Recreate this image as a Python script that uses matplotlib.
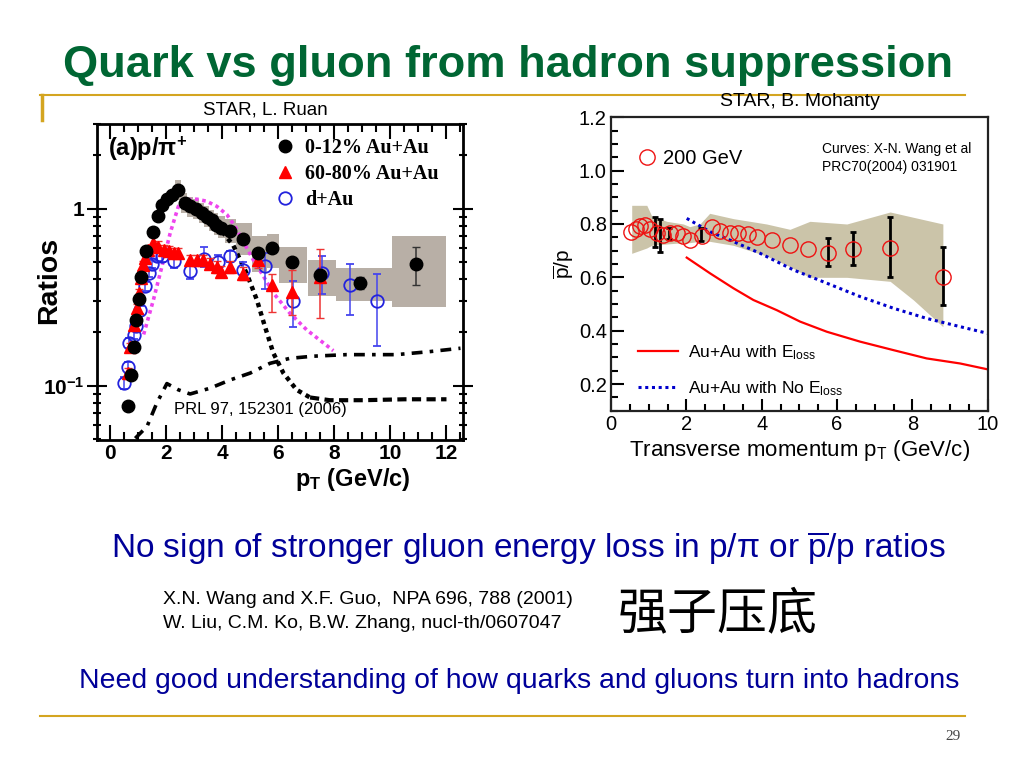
import matplotlib
matplotlib.use('Agg')
import matplotlib.pyplot as plt
from matplotlib.ticker import MultipleLocator, FixedLocator, NullFormatter
from matplotlib.lines import Line2D
from matplotlib.patches import Rectangle

plt.rcParams['font.family'] = ['Liberation Sans', 'DejaVu Sans']
plt.rcParams['mathtext.fontset'] = 'custom'
plt.rcParams['mathtext.rm'] = 'Liberation Sans'
plt.rcParams['mathtext.it'] = 'Liberation Sans:italic'
plt.rcParams['mathtext.bf'] = 'Liberation Sans:bold'

# ---- left panel: p/pi+ ratios ----
cen_x = [0.62, 0.75, 0.86, 0.93, 1.01, 1.10, 1.28, 1.52, 1.72, 1.84, 2.02, 2.20, 2.40,
         2.65, 2.85, 3.06, 3.27, 3.44, 3.62, 3.78, 3.94, 4.28, 4.75, 5.28, 5.78, 6.50,
         7.48, 8.90, 10.90]
cen_y = [0.077, 0.115, 0.165, 0.234, 0.31, 0.41, 0.58, 0.74, 0.91, 1.05, 1.13, 1.20, 1.28,
         1.08, 1.03, 0.99, 0.95, 0.90, 0.86, 0.81, 0.78, 0.745, 0.67, 0.565, 0.60, 0.50,
         0.42, 0.38, 0.49]
cen_bar_x = [8.90, 10.90]
cen_bar_y = [0.38, 0.49]
cen_bar_lo = [0.35, 0.37]
cen_bar_hi = [0.41, 0.61]
# systematic boxes for central data: x0, x1, low, high
box_x0 = [2.30, 2.52, 2.75, 2.95, 3.16, 3.36, 3.53, 3.70, 3.86, 4.10, 4.50, 5.06, 5.59, 6.02, 7.05, 8.05, 10.05]
box_x1 = [2.52, 2.75, 2.95, 3.16, 3.36, 3.53, 3.70, 3.86, 4.10, 4.50, 5.06, 5.59, 6.02, 7.02, 8.05, 10.05, 12.0]
box_lo = [1.12, 0.95, 0.90, 0.87, 0.83, 0.79, 0.75, 0.71, 0.68, 0.64, 0.55, 0.44, 0.46, 0.38, 0.32, 0.30, 0.28]
box_hi = [1.45, 1.22, 1.16, 1.13, 1.08, 1.03, 0.98, 0.94, 0.91, 0.87, 0.83, 0.70, 0.72, 0.61, 0.51, 0.46, 0.70]

per_x = [0.63, 0.71, 0.83, 0.95, 1.04, 1.10, 1.16, 1.25, 1.36, 1.54, 1.72, 1.90, 2.08, 2.26,
         2.43, 2.85, 3.09, 3.32, 3.56, 3.80, 3.94, 4.28, 4.75, 5.28, 5.78, 6.50, 7.48]
per_y = [0.118, 0.165, 0.221, 0.275, 0.334, 0.406, 0.483, 0.526, 0.586, 0.64, 0.61, 0.586,
         0.574, 0.56, 0.56, 0.515, 0.515, 0.515, 0.49, 0.47, 0.44, 0.47, 0.43, 0.515, 0.37,
         0.34, 0.41]
per_lo = [0.110, 0.155, 0.208, 0.260, 0.318, 0.388, 0.462, 0.500, 0.555, 0.600, 0.570, 0.550,
          0.540, 0.525, 0.525, 0.480, 0.480, 0.480, 0.455, 0.435, 0.410, 0.435, 0.395, 0.46, 0.26,
          0.25, 0.24]
per_hi = [0.126, 0.175, 0.234, 0.290, 0.350, 0.424, 0.504, 0.552, 0.617, 0.690, 0.660, 0.625,
          0.612, 0.598, 0.598, 0.550, 0.550, 0.550, 0.525, 0.505, 0.472, 0.505, 0.470, 0.56, 0.43,
          0.45, 0.59]

dau_x = [0.50, 0.62, 0.68, 0.86, 0.93, 1.07, 1.25, 1.37, 1.48, 1.66, 1.84, 2.28, 2.85, 3.33,
         3.84, 4.28, 4.75, 5.52, 6.53, 7.54, 8.55, 9.52]
dau_y = [0.104, 0.127, 0.174, 0.194, 0.218, 0.269, 0.364, 0.433, 0.486, 0.538, 0.542, 0.504,
         0.443, 0.522, 0.50, 0.538, 0.452, 0.477, 0.303, 0.433, 0.372, 0.30]
dau_lo = [0.096, 0.118, 0.163, 0.183, 0.206, 0.255, 0.345, 0.410, 0.460, 0.505, 0.500, 0.460,
          0.400, 0.470, 0.460, 0.500, 0.410, 0.350, 0.216, 0.330, 0.250, 0.167]
dau_hi = [0.112, 0.136, 0.185, 0.205, 0.230, 0.283, 0.383, 0.456, 0.512, 0.570, 0.580, 0.550,
          0.490, 0.610, 0.550, 0.580, 0.500, 0.560, 0.390, 0.540, 0.490, 0.430]

mag_x = [1.19, 1.54, 1.84, 2.14, 2.43, 2.73, 3.09, 3.44, 3.80, 4.16, 4.45, 4.75, 5.10, 5.46,
         5.82, 6.41, 7.01, 7.96]
mag_y = [0.195, 0.306, 0.47, 0.73, 1.03, 1.12, 1.13, 1.10, 1.03, 0.925, 0.795, 0.65, 0.515,
         0.417, 0.334, 0.257, 0.207, 0.158]

frag_x = [4.00, 4.39, 4.87, 5.23, 5.52, 5.82, 6.18, 6.65, 7.13, 7.84, 9.03, 10.5, 12.0]
frag_y = [0.74, 0.62, 0.43, 0.306, 0.216, 0.153, 0.118, 0.095, 0.086, 0.083, 0.083, 0.084, 0.084]

dd_x = [0.89, 1.31, 1.66, 2.02, 2.43, 2.85, 3.56, 4.28, 4.99, 5.70, 6.41, 7.24, 8.43, 10.21,
        11.4, 12.5]
dd_y = [0.0506, 0.059, 0.080, 0.103, 0.095, 0.090, 0.097, 0.108, 0.118, 0.134, 0.143, 0.147,
        0.150, 0.150, 0.156, 0.163]

# ---- right panel: pbar/p ----
pp_x = [0.52, 0.66, 0.77, 0.90, 1.04, 1.21, 1.39, 1.57, 1.74, 1.92, 2.10, 2.41, 2.67, 2.89,
        3.16, 3.38, 3.65, 3.87, 4.27, 4.75, 5.24, 5.75, 6.42, 7.41, 8.81]
pp_y = [0.769, 0.78, 0.792, 0.796, 0.78, 0.765, 0.759, 0.765, 0.765, 0.755, 0.74, 0.756, 0.79,
        0.775, 0.767, 0.765, 0.761, 0.752, 0.74, 0.721, 0.705, 0.692, 0.705, 0.709, 0.60]
pp_bar_x = [1.17, 1.30, 1.55, 2.39, 5.75, 6.42, 7.41, 8.81]
pp_bar_y = [0.771, 0.757, 0.765, 0.760, 0.692, 0.705, 0.709, 0.60]
pp_bar_lo = [0.715, 0.696, 0.745, 0.735, 0.642, 0.647, 0.600, 0.495]
pp_bar_hi = [0.827, 0.818, 0.785, 0.785, 0.749, 0.771, 0.825, 0.715]

band_x = [0.55, 0.95, 1.08, 1.48, 1.92, 2.09, 2.36, 2.62, 3.25, 4.13, 4.75, 5.28, 6.26, 7.41, 8.03, 8.81]
band_lo = [0.69, 0.71, 0.72, 0.725, 0.73, 0.73, 0.735, 0.735, 0.72, 0.68, 0.64, 0.60, 0.60, 0.585, 0.515, 0.415]
band_hi = [0.87, 0.87, 0.83, 0.81, 0.80, 0.79, 0.80, 0.84, 0.82, 0.80, 0.78, 0.81, 0.80, 0.845, 0.825, 0.80]

noloss_x = [2.01, 2.63, 3.25, 3.96, 4.84, 5.73, 6.61, 7.50, 8.38, 9.27, 10.0]
noloss_y = [0.821, 0.771, 0.734, 0.69, 0.628, 0.578, 0.528, 0.484, 0.446, 0.415, 0.39]
loss_x = [2.01, 2.63, 3.25, 3.78, 4.40, 5.02, 5.73, 6.61, 7.50, 8.38, 9.27, 10.0]
loss_y = [0.674, 0.615, 0.559, 0.515, 0.477, 0.434, 0.396, 0.359, 0.327, 0.296, 0.277, 0.255]

W, H = 1024, 768
fig = plt.figure(figsize=(10.24, 7.68), dpi=100)


def fx(px):
    return px / W


def fy(py):
    return 1 - py / H


def errs(y, lo, hi):
    return [[a - b for a, b in zip(y, lo)], [c - a for a, c in zip(y, hi)]]


# slide decorations
gold = '#d4a520'
fig.add_artist(Line2D([fx(40), fx(965)], [fy(95), fy(95)], color=gold, lw=1.5))
fig.add_artist(Line2D([fx(42), fx(42)], [fy(95), fy(120)], color=gold, lw=2.5))
fig.add_artist(Line2D([fx(40), fx(965)], [fy(716), fy(716)], color=gold, lw=1.5))

fig.text(fx(508), fy(65), 'Quark vs gluon from hadron suppression', color='#006633',
         fontsize=32.6, fontweight='bold', ha='center', va='center',
         family=['Liberation Sans Narrow', 'Liberation Sans'])
fig.text(fx(265), fy(110), 'STAR, L. Ruan', fontsize=13.5, ha='center', va='center')
fig.text(fx(800), fy(102), 'STAR, B. Mohanty', fontsize=14, ha='center', va='center')

# ---- left axes ----
ax1 = fig.add_axes([fx(97), fy(440), (463 - 97) / W, (440 - 124) / H])
ax1.set_yscale('log')
ax1.set_xlim(-0.475, 12.59)
ax1.set_ylim(0.0495, 3.0)

for x0, x1, lo, hi in zip(box_x0, box_x1, box_lo, box_hi):
    ax1.add_patch(Rectangle((x0, lo), x1 - x0, hi - lo, facecolor='#b8afa6',
                            edgecolor='none', zorder=1))

ax1.plot(mag_x, mag_y, color='#ee44ee', ls=(0, (1, 1)), lw=2.6, zorder=2)
ax1.plot([x for x in frag_x if x <= 7.2], [y for x, y in zip(frag_x, frag_y) if x <= 7.2],
         color='black', ls=(0, (1, 1)), lw=3.2, zorder=2)
ax1.plot([x for x in frag_x if x >= 7.1], [y for x, y in zip(frag_x, frag_y) if x >= 7.1],
         color='black', ls=(0, (2.2, 1.3)), lw=3.0, zorder=2)
ax1.plot(dd_x, dd_y, color='black', ls=(0, (3, 2, 1, 2)), lw=2.6, zorder=2)

ax1.errorbar(dau_x, dau_y, yerr=errs(dau_y, dau_lo, dau_hi),
             fmt='o', mfc='none', mec='#2222dd', ecolor='#4444ee', ms=9, mew=1.3,
             elinewidth=1.1, capsize=3, zorder=3)
ax1.errorbar(per_x, per_y, yerr=errs(per_y, per_lo, per_hi),
             fmt='^', color='#ff0000', ecolor='#ee3333', ms=9, elinewidth=1.1, capsize=3, zorder=4)
ax1.errorbar(cen_bar_x, cen_bar_y, yerr=errs(cen_bar_y, cen_bar_lo, cen_bar_hi),
             fmt='none', ecolor='#333333', elinewidth=1.1, capsize=3, zorder=4)
ax1.plot(cen_x, cen_y, 'o', color='black', ms=9, zorder=5)

ax1.xaxis.set_major_locator(MultipleLocator(2))
ax1.xaxis.set_minor_locator(MultipleLocator(0.5))
ax1.yaxis.set_major_locator(FixedLocator([0.1, 1]))
ax1.yaxis.set_minor_locator(FixedLocator([0.05, 0.06, 0.07, 0.08, 0.09, 0.2, 0.3, 0.4, 0.5,
                                          0.6, 0.7, 0.8, 0.9, 2, 3]))
ax1.yaxis.set_minor_formatter(NullFormatter())
ax1.set_yticklabels([r'$\mathbf{10^{-1}}$', '1'])
ax1.tick_params(which='both', direction='in', top=True, right=True, width=1.5)
ax1.tick_params(axis='y', which='both', direction='inout')
ax1.tick_params(which='major', length=11, labelsize=15, pad=3)
ax1.tick_params(which='minor', length=6)
ax1.tick_params(axis='y', which='major', length=14, pad=2)
for lab in ax1.get_xticklabels() + ax1.get_yticklabels():
    lab.set_fontweight('bold')
for s in ax1.spines.values():
    s.set_linewidth(2)

ax1.set_ylabel('Ratios', fontsize=20.5, fontweight='bold')
ax1.yaxis.set_label_coords(-0.096, 0.506)
ax1.set_xlabel(r'p$_{\mathbf{T}}$ (GeV/c)', fontsize=17, fontweight='bold')
ax1.xaxis.set_label_coords(0.70, -0.083)
ax1.text(0.03, 0.92, r'(a)p/$\mathbf{\pi^{+}}$', transform=ax1.transAxes, fontsize=17,
         fontweight='bold', va='center')
ax1.text(0.21, 0.095, 'PRL 97, 152301 (2006)', transform=ax1.transAxes, fontsize=12,
         va='center')

h1 = [Line2D([], [], marker='o', color='black', ls='none', ms=9),
      Line2D([], [], marker='^', color='#ff0000', ls='none', ms=9),
      Line2D([], [], marker='o', mfc='none', mec='#2222dd', mew=1.3, ls='none', ms=9)]
ax1.legend(h1, ['0-12% Au+Au', '60-80% Au+Au', 'd+Au'], loc='upper left',
           bbox_to_anchor=(0.437, 1.013), frameon=False, handlelength=1.0, handletextpad=0.5,
           labelspacing=0.3, prop={'family': 'Liberation Serif', 'weight': 'bold', 'size': 14.5})

# ---- right axes ----
ax2 = fig.add_axes([fx(611), fy(410.7), (987.7 - 611) / W, (410.7 - 117.3) / H])
ax2.set_xlim(0, 10)
ax2.set_ylim(0.1, 1.2)
ax2.fill_between(band_x, band_lo, band_hi, color='#cbc4a9', lw=0, zorder=1)
ax2.plot(loss_x, loss_y, color='#ff0000', lw=1.6, zorder=2, label=r'Au+Au with E$_{\rm loss}$')
ax2.plot(noloss_x, noloss_y, color='#0000cc', lw=2.2, ls=(0, (1, 1.2)), zorder=2,
         label=r'Au+Au with No E$_{\rm loss}$')
ax2.errorbar(pp_bar_x, pp_bar_y, yerr=errs(pp_bar_y, pp_bar_lo, pp_bar_hi),
             fmt='none', ecolor='black', elinewidth=2, capsize=2.5, capthick=2, zorder=3)
pts, = ax2.plot(pp_x, pp_y, 'o', mfc='none', mec='#ee1111', ms=11, mew=1.0, zorder=4)

ax2.xaxis.set_major_locator(MultipleLocator(2))
ax2.xaxis.set_minor_locator(MultipleLocator(0.5))
ax2.yaxis.set_major_locator(MultipleLocator(0.2))
ax2.yaxis.set_minor_locator(MultipleLocator(0.05))
ax2.yaxis.set_major_formatter(plt.FuncFormatter(lambda v, p: f'{v:.1f}'))
ax2.tick_params(which='both', direction='in', top=False, right=False, width=1.5)
ax2.tick_params(which='major', length=9, labelsize=14.5, pad=3)
ax2.tick_params(which='minor', length=5)
for s in ax2.spines.values():
    s.set_linewidth(1.6)
    s.set_color('#222222')
ax2.set_xlabel(r'Transverse momentum p$_{\rm T}$ (GeV/c)', fontsize=16, labelpad=3)
ax2.set_ylabel(r'$\overline{\rm p}$/p', fontsize=15, labelpad=2)

leg_a = ax2.legend([pts], ['200 GeV'], loc='upper left', bbox_to_anchor=(0.025, 0.955),
                   frameon=False, handlelength=0.8, handletextpad=0.4, fontsize=14.5)
ax2.add_artist(leg_a)
ax2.legend(loc='lower left', bbox_to_anchor=(0.03, -0.01), frameon=False, handlelength=2.3,
           handletextpad=0.6, labelspacing=1.0, fontsize=12.5)
ax2.text(0.56, 0.861, 'Curves: X-N. Wang et al\nPRC70(2004) 031901', transform=ax2.transAxes,
         fontsize=10, va='center', linespacing=1.3)

# ---- slide text ----
fig.text(fx(528), fy(548), r'No sign of stronger gluon energy loss in p/π or $\overline{\rm p}$/p ratios',
         color='#000099', fontsize=24, ha='center', va='center')
fig.text(fx(163), fy(599), 'X.N. Wang and X.F. Guo,  NPA 696, 788 (2001)', fontsize=14,
         va='center')
fig.text(fx(163), fy(624), 'W. Liu, C.M. Ko, B.W. Zhang, nucl-th/0607047', fontsize=14,
         va='center')
fig.text(fx(718), fy(614), '强子压底', fontsize=36, ha='center', va='center',
         family=['Noto Sans CJK SC', 'DejaVu Sans'], fontweight='light')
fig.text(fx(519), fy(681), 'Need good understanding of how quarks and gluons turn into hadrons',
         color='#000099', fontsize=20.4, ha='center', va='center')
fig.text(fx(953), fy(737), '29', fontsize=11, ha='center', va='center', color='#444444',
         family=['Liberation Serif'])

fig.savefig('out.png', dpi=100)
